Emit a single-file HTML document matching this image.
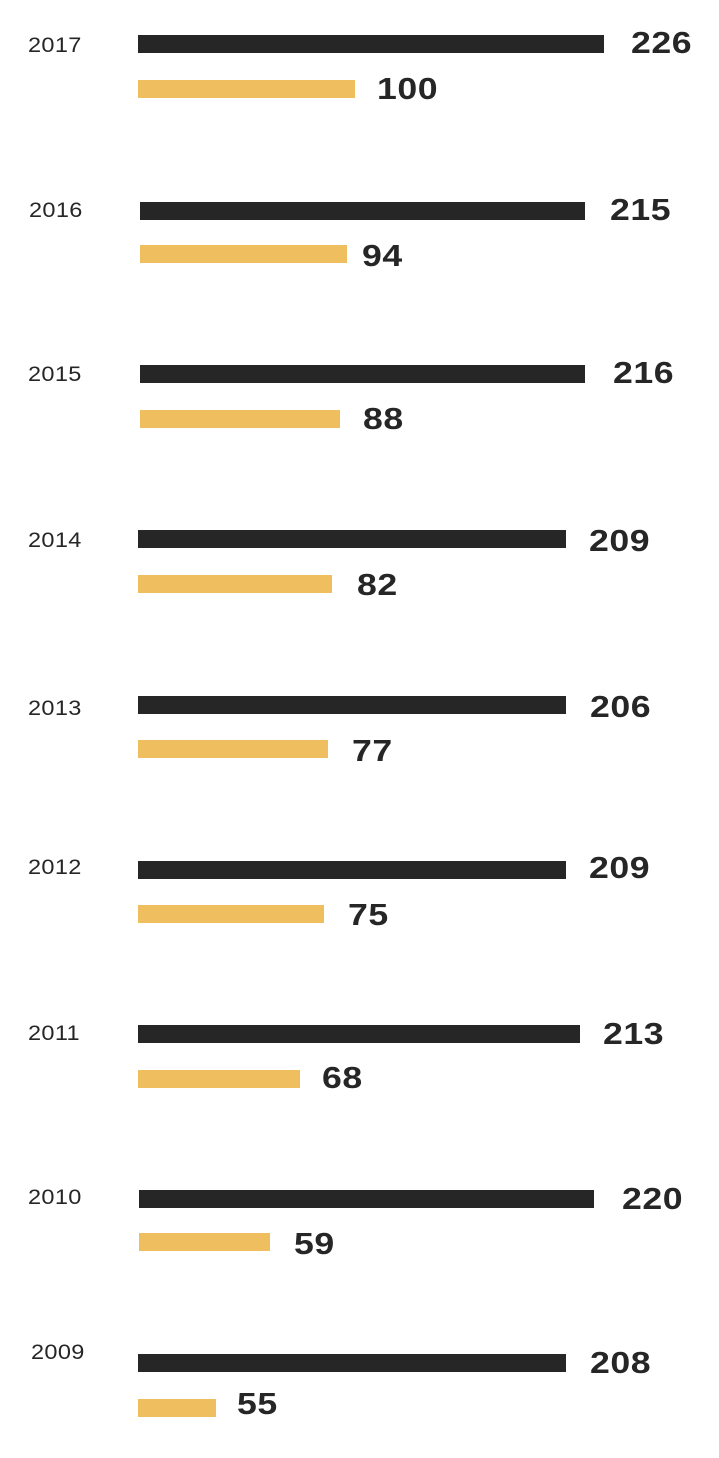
<!DOCTYPE html>
<html><head><style>
body{margin:0;width:719px;height:1458px;background:#fff;position:relative;font-family:"Liberation Sans",sans-serif;overflow:hidden}
.b{position:absolute;height:18px;left:138px}
.k{background:#262626}.g{background:#efbf5f}
.t{position:absolute;line-height:30px;height:30px;font-size:31px;font-weight:bold;letter-spacing:0.5px;color:#262626;transform-origin:left center;transform:translateY(-50%) scaleX(1.15)}
.y{position:absolute;line-height:22px;font-size:21px;letter-spacing:0.3px;color:#262626;transform-origin:left center;transform:translateY(-50%) scaleX(1.12)}
</style></head><body>
<div class="y" style="left:28px;top:46px">2017</div>
<div class="b k" style="top:35px;width:466px"></div><div class="t" style="left:631px;top:43px">226</div>
<div class="b g" style="top:80px;width:217px"></div><div class="t" style="left:377px;top:89px">100</div>

<div class="y" style="left:29px;top:211px">2016</div>
<div class="b k" style="top:202px;left:140px;width:445px"></div><div class="t" style="left:610px;top:210px">215</div>
<div class="b g" style="top:245px;left:140px;width:207px"></div><div class="t" style="left:362px;top:256px">94</div>

<div class="y" style="left:28px;top:375px">2015</div>
<div class="b k" style="top:365px;left:140px;width:445px"></div><div class="t" style="left:613px;top:373px">216</div>
<div class="b g" style="top:410px;left:140px;width:200px"></div><div class="t" style="left:363px;top:419px">88</div>

<div class="y" style="left:28px;top:541px">2014</div>
<div class="b k" style="top:530px;width:428px"></div><div class="t" style="left:589px;top:541px">209</div>
<div class="b g" style="top:575px;width:194px"></div><div class="t" style="left:357px;top:585px">82</div>

<div class="y" style="left:28px;top:709px">2013</div>
<div class="b k" style="top:696px;width:428px"></div><div class="t" style="left:590px;top:707px">206</div>
<div class="b g" style="top:740px;width:190px"></div><div class="t" style="left:352px;top:751px">77</div>

<div class="y" style="left:28px;top:868px">2012</div>
<div class="b k" style="top:861px;width:428px"></div><div class="t" style="left:589px;top:868px">209</div>
<div class="b g" style="top:905px;width:186px"></div><div class="t" style="left:348px;top:915px">75</div>

<div class="y" style="left:28px;top:1034px">2011</div>
<div class="b k" style="top:1025px;width:442px"></div><div class="t" style="left:603px;top:1034px">213</div>
<div class="b g" style="top:1070px;width:162px"></div><div class="t" style="left:322px;top:1078px">68</div>

<div class="y" style="left:28px;top:1198px">2010</div>
<div class="b k" style="top:1190px;left:139px;width:455px"></div><div class="t" style="left:622px;top:1199px">220</div>
<div class="b g" style="top:1233px;left:139px;width:131px"></div><div class="t" style="left:294px;top:1244px">59</div>

<div class="y" style="left:31px;top:1353px">2009</div>
<div class="b k" style="top:1354px;width:428px"></div><div class="t" style="left:590px;top:1363px">208</div>
<div class="b g" style="top:1399px;width:78px"></div><div class="t" style="left:237px;top:1404px">55</div>
</body></html>
